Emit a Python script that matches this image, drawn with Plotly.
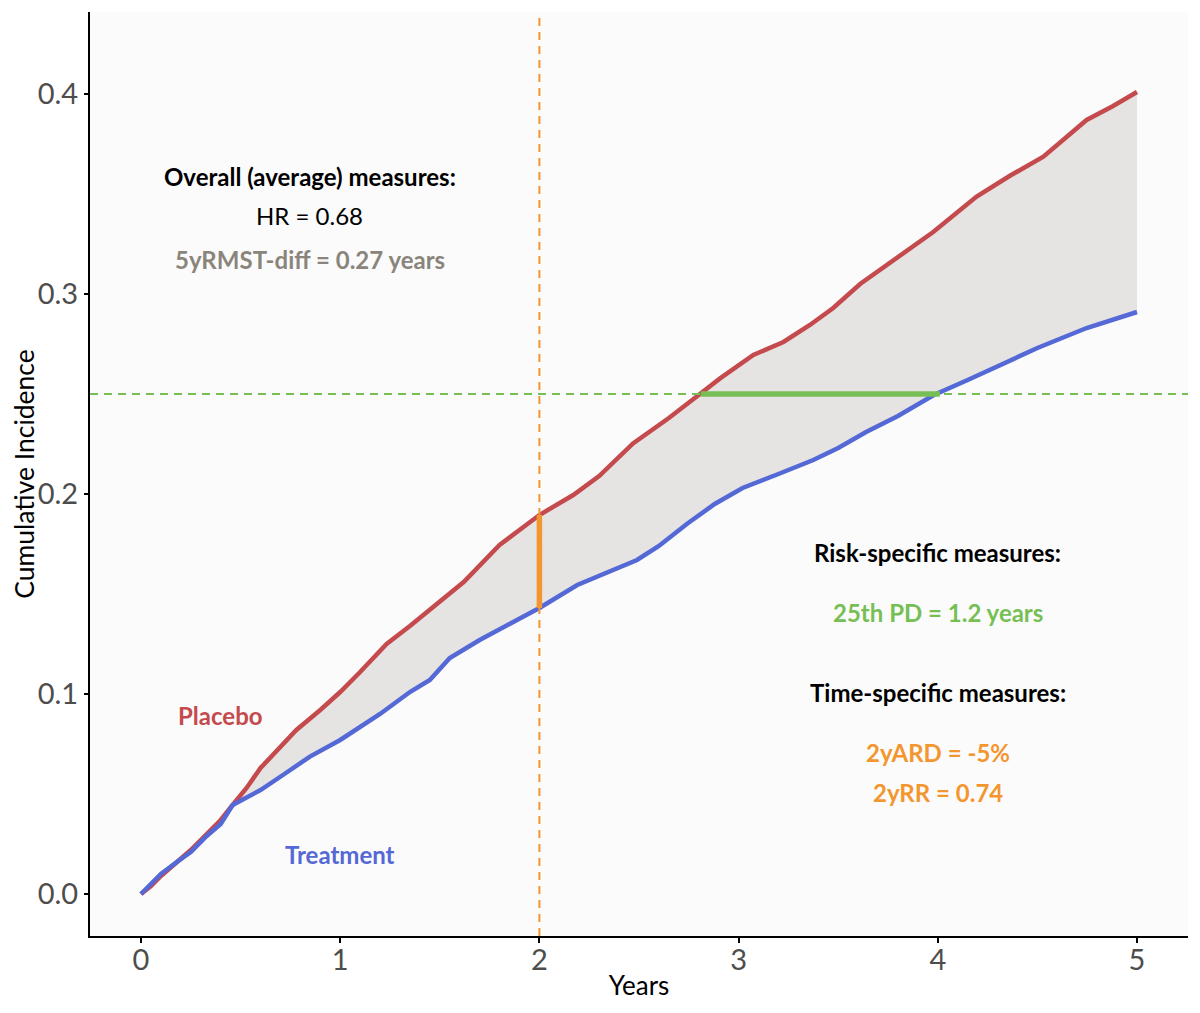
import plotly.graph_objects as go

# ---------------- data ----------------
placebo_t = [0.0, 0.05, 0.1, 0.18, 0.25, 0.33, 0.4, 0.46, 0.53, 0.6, 0.7, 0.78, 0.9, 1.0, 1.1, 1.233, 1.35, 1.5, 1.62, 1.8, 2.0,
             2.17, 2.3, 2.47, 2.65, 2.806, 2.907, 3.074, 3.225, 3.358, 3.475, 3.61, 3.743, 3.977, 4.195, 4.36, 4.53, 4.747, 4.88, 5.0]
placebo_y = [0.0, 0.004, 0.009, 0.016, 0.022, 0.030, 0.037, 0.0445, 0.053, 0.063, 0.074, 0.082, 0.092, 0.101, 0.111, 0.125, 0.134, 0.146, 0.156, 0.1745, 0.1895,
             0.1995, 0.209, 0.2253, 0.238, 0.250, 0.2578, 0.2695, 0.276, 0.2845, 0.293, 0.305, 0.3145, 0.331, 0.3487, 0.359, 0.3687, 0.387, 0.394, 0.401]
treat_t = [0.0, 0.05, 0.1, 0.18, 0.25, 0.33, 0.4, 0.46, 0.6, 0.72, 0.848, 1.0, 1.2, 1.35, 1.45, 1.55, 1.7, 1.85, 2.0, 2.19, 2.35, 2.49, 2.6, 2.74, 2.88, 3.02,
           3.2, 3.375, 3.5, 3.64, 3.8, 3.98, 4.15, 4.31, 4.5, 4.747, 4.88, 5.0]
treat_y = [0.0, 0.005, 0.010, 0.016, 0.021, 0.029, 0.035, 0.0445, 0.052, 0.060, 0.0687, 0.077, 0.090, 0.101, 0.107, 0.118, 0.127, 0.135, 0.143, 0.1545, 0.161, 0.167, 0.174, 0.185, 0.195, 0.203,
           0.210, 0.217, 0.223, 0.231, 0.239, 0.2495, 0.257, 0.2645, 0.273, 0.283, 0.287, 0.291]

risk_threshold = 0.25          # 25th percentile risk
pd_placebo_time = 2.81         # time placebo reaches 25%
pd_treat_time = 4.01           # time treatment reaches 25%
landmark_time = 2.0            # 2-year landmark
risk_placebo_2y = 0.1895
risk_treat_2y = 0.143

x_ticks = [0, 1, 2, 3, 4, 5]
y_ticks = [0.0, 0.1, 0.2, 0.3, 0.4]

RED = "#c44a4d"
BLUE = "#5468d6"
GREEN = "#77bf55"
ORANGE = "#f3962f"
GREYTXT = "#8a857b"
FONT = "Lato"

fig = go.Figure()

# shaded area between curves
fig.add_trace(go.Scatter(x=treat_t, y=treat_y, mode="lines", line=dict(width=0, color="rgba(0,0,0,0)"),
                         showlegend=False, hoverinfo="skip"))
fig.add_trace(go.Scatter(x=placebo_t, y=placebo_y, mode="lines", line=dict(width=0, color="rgba(0,0,0,0)"),
                         fill="tonexty", fillcolor="#e5e4e3", showlegend=False, hoverinfo="skip"))

# reference dashed lines
fig.add_hline(y=risk_threshold, line=dict(color=GREEN, width=2, dash="8px,6px"))
fig.add_vline(x=landmark_time, line=dict(color=ORANGE, width=2, dash="8px,6px"))

# curves
fig.add_trace(go.Scatter(x=placebo_t, y=placebo_y, mode="lines", line=dict(color=RED, width=4.5),
                         name="Placebo", showlegend=False))
fig.add_trace(go.Scatter(x=treat_t, y=treat_y, mode="lines", line=dict(color=BLUE, width=4.5),
                         name="Treatment", showlegend=False))

# measure segments
fig.add_trace(go.Scatter(x=[pd_placebo_time, pd_treat_time], y=[risk_threshold, risk_threshold], mode="lines",
                         line=dict(color=GREEN, width=5.5), showlegend=False))
fig.add_trace(go.Scatter(x=[landmark_time, landmark_time], y=[risk_treat_2y, risk_placebo_2y], mode="lines",
                         line=dict(color=ORANGE, width=5.5), showlegend=False))

def txt(x, y, s, color="black", bold=True, size=24):
    fig.add_annotation(x=x, y=y, text=(f"<b>{s}</b>" if bold else s), showarrow=False,
                       font=dict(family=FONT, size=size, color=color), xanchor="center", yanchor="middle")

txt(0.848, 0.359, "Overall (average) measures:")
txt(0.848, 0.3395, "HR = 0.68", bold=False)
txt(0.848, 0.3175, "5yRMST-diff = 0.27 years", color=GREYTXT)
txt(4.0, 0.171, "Risk-specific measures:")
txt(4.0, 0.141, "25th PD = 1.2 years", color=GREEN)
txt(4.0, 0.101, "Time-specific measures:")
txt(4.0, 0.071, "2yARD = -5%", color=ORANGE)
txt(4.0, 0.051, "2yRR = 0.74", color=ORANGE)
txt(0.397, 0.0895, "Placebo", color=RED)
txt(0.999, 0.020, "Treatment", color=BLUE)

# page body has an 8px default margin, so the figure is sized/offset to compensate
fig.update_layout(
    width=1192, height=1005,
    margin=dict(l=82, r=12, t=4, b=77),
    paper_bgcolor="white", plot_bgcolor="#fbfbfb",
    font=dict(family=FONT, size=26, color="#4d4d4d"),
    showlegend=False,
)
fig.update_xaxes(range=[-0.256, 5.256], tickvals=x_ticks, ticks="outside", ticklen=5, tickwidth=1.5, tickcolor="black",
                 showline=True, linecolor="black", linewidth=2, showgrid=False, zeroline=False, automargin=False,
                 tickfont=dict(size=29, color="#4d4d4d"), ticklabelstandoff=-8,
                 title=dict(text="Years", font=dict(size=26, color="black"), standoff=2))
fig.update_yaxes(range=[-0.021, 0.441], tickvals=y_ticks, tickformat=".1f", ticks="outside", ticklen=4, tickwidth=1.5,
                 tickcolor="black", showline=True, linecolor="black", linewidth=2, showgrid=False, zeroline=False,
                 automargin=False,
                 tickfont=dict(size=29, color="#4d4d4d"),
                 title=dict(text="Cumulative Incidence", font=dict(size=26.5, color="black"), standoff=14))

fig.write_html("out.html")
